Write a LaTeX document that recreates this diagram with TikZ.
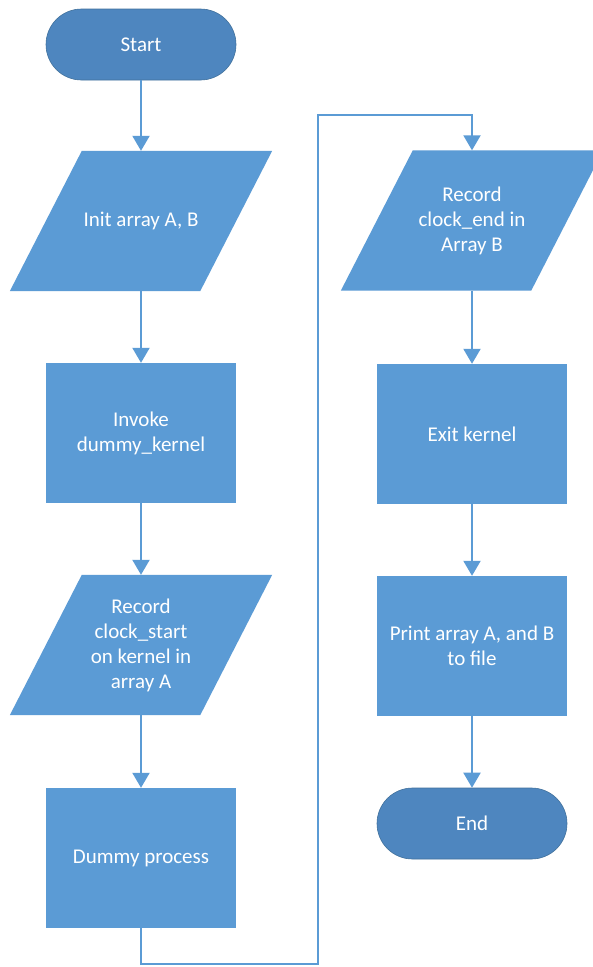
\documentclass[tikz,border=0pt]{standalone}
\usepackage{fontspec}
\setmainfont{Carlito}
\usetikzlibrary{arrows.meta,backgrounds,shapes.misc}
\definecolor{boxblue}{HTML}{5B9BD5}
\definecolor{termblue}{HTML}{4E86BF}
\definecolor{termedge}{HTML}{41719C}
\begin{document}
\begin{tikzpicture}[x=1pt,y=-1pt,
 every node/.style={font=\fontsize{21}{25}\selectfont, text=white, align=center, inner sep=0pt},
 terminal/.style={rounded rectangle, fill=termblue, draw=termedge, line width=0.6pt, minimum width=190pt, minimum height=71pt},
 procbox/.style={rectangle, fill=boxblue, minimum width=190pt, minimum height=140pt},
 iobox/.style={rectangle, minimum width=190pt, minimum height=140pt},
 flow/.style={draw=boxblue, line width=2pt, -{Triangle[width=17pt,length=15pt]}}
]
\useasboundingbox (0,0) rectangle (592,967);
% left column
\node[terminal] (start) at (141,44.5) {Start};
\node[iobox] (init) at (141,221) {Init array A, B};
\node[procbox] (invoke) at (141,433) {Invoke\\dummy\_kernel};
\node[iobox] (recs) at (141,645) {Record\\clock\_start\\on kernel in\\array A};
\node[procbox] (dummy) at (141,858) {Dummy process};
% right column
\node[iobox] (rece) at (472,220.5) {Record\\clock\_end in\\Array B};
\node[procbox] (exitk) at (472,434) {Exit kernel};
\node[procbox] (print) at (472,646) {Print array A, and B\\to file};
\node[terminal] (end) at (472,823.5) {End};
% parallelogram bodies
\begin{scope}[on background layer]
\fill[white] (0,0) rectangle (592,967);
\foreach \n in {init,recs,rece}
  \fill[boxblue] ([xshift=36pt]\n.north west) -- ([xshift=36pt]\n.north east)
     -- ([xshift=-36pt]\n.south east) -- ([xshift=-36pt]\n.south west) -- cycle;
\end{scope}
% connectors
\coordinate (c1) at (318,964);
\coordinate (c2) at (318,115);
\draw[flow] (start.south) -- (init.north);
\draw[flow] (init.south) -- (invoke.north);
\draw[flow] (invoke.south) -- (recs.north);
\draw[flow] (recs.south) -- (dummy.north);
\draw[flow] (dummy.south) |- (c1) -- (c2) -| (rece.north);
\draw[flow] (rece.south) -- (exitk.north);
\draw[flow] (exitk.south) -- (print.north);
\draw[flow] (print.south) -- (end.north);
\end{tikzpicture}
\end{document}
